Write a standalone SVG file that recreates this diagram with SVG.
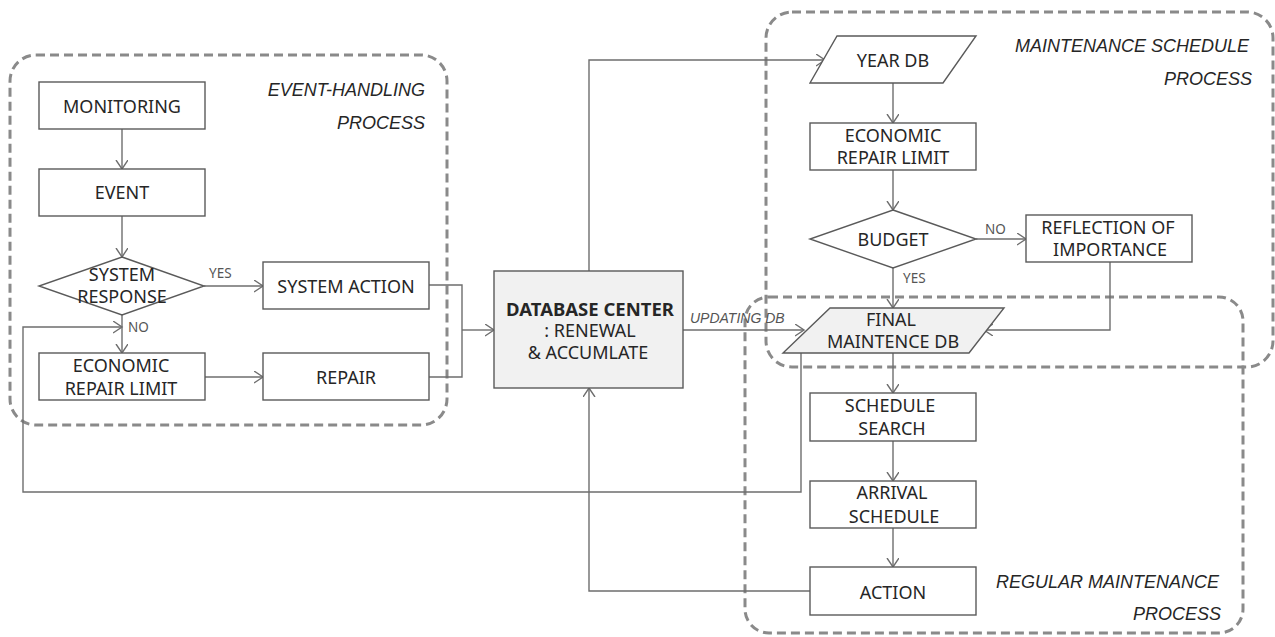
<svg xmlns="http://www.w3.org/2000/svg" width="1275" height="637" viewBox="0 0 1275 637">
  <style>
    .bg { fill: #ffffff; }
    .grp { fill: none; stroke: #8a8a8a; stroke-width: 3; stroke-dasharray: 9 5; }
    .box { fill: #ffffff; stroke: #5a5a5a; stroke-width: 1.4; }
    .shade { fill: #f1f1f1; stroke: #5a5a5a; stroke-width: 1.4; }
    .edge { fill: none; stroke: #6e6e6e; stroke-width: 1.4; }
    .lbl { font-family: "Noto Sans", "Liberation Sans", sans-serif; font-size: 18px; fill: #262626; text-anchor: middle; dominant-baseline: central; }
    .bold { font-weight: bold; font-size: 18.5px; }
    .small { font-family: "Noto Sans", "Liberation Sans", sans-serif; font-size: 13.5px; fill: #555555; dominant-baseline: central; }
    .proc { font-family: "Liberation Sans", sans-serif; font-size: 18px; font-style: italic; fill: #262626; text-anchor: end; dominant-baseline: central; }
    .edgelbl { font-family: "Liberation Sans", sans-serif; font-size: 14px; font-style: italic; fill: #555555; dominant-baseline: central; }
  </style>
  <defs>
    <marker id="arrow" markerUnits="userSpaceOnUse" markerWidth="12" markerHeight="14" refX="9" refY="6" orient="auto">
      <path d="M0,0 L9,6 L0,12" fill="none" stroke="#6e6e6e" stroke-width="1.4"/>
    </marker>
  </defs>

  <rect class="bg" x="0" y="0" width="1275" height="637"/>

  <!-- process groupings -->
  <g id="groups">
    <rect id="event-handling-process" class="grp" x="10" y="55" width="437" height="370" rx="26"/>
    <rect id="maintenance-schedule-process" class="grp" x="766" y="12" width="507" height="355" rx="26"/>
    <rect id="regular-maintenance-process" class="grp" x="745" y="297" width="498" height="336" rx="24"/>
    <text class="proc" x="425" y="90">EVENT-HANDLING</text>
    <text class="proc" x="425" y="123">PROCESS</text>
    <text class="proc" x="1249" y="46">MAINTENANCE SCHEDULE</text>
    <text class="proc" x="1252" y="79">PROCESS</text>
    <text class="proc" x="1219" y="582">REGULAR MAINTENANCE</text>
    <text class="proc" x="1221" y="614">PROCESS</text>
  </g>

  <!-- connectors -->
  <g id="connectors">
    <path class="edge" d="M122,129 V169" marker-end="url(#arrow)"/>
    <path class="edge" d="M122,216 V257" marker-end="url(#arrow)"/>
    <path class="edge" d="M204,286 H263" marker-end="url(#arrow)"/>
    <path class="edge" d="M122,315 V353" marker-end="url(#arrow)"/>
    <path class="edge" d="M205,377 H263" marker-end="url(#arrow)"/>
    <path class="edge" d="M429,285 H462 V377 H429"/>
    <path class="edge" d="M462,330 H494" marker-end="url(#arrow)"/>
    <path class="edge" d="M589,271 V60 H825" marker-end="url(#arrow)"/>
    <path class="edge" d="M683,330 H804" marker-end="url(#arrow)"/>
    <path class="edge" d="M893,83 V123" marker-end="url(#arrow)"/>
    <path class="edge" d="M893,170 V210" marker-end="url(#arrow)"/>
    <path class="edge" d="M976,239 H1026" marker-end="url(#arrow)"/>
    <path class="edge" d="M893,268 V308" marker-end="url(#arrow)"/>
    <path class="edge" d="M1110,262 V330 H984" marker-end="url(#arrow)"/>
    <path class="edge" d="M893,353 V393" marker-end="url(#arrow)"/>
    <path class="edge" d="M893,441 V481" marker-end="url(#arrow)"/>
    <path class="edge" d="M893,528 V567" marker-end="url(#arrow)"/>
    <path class="edge" d="M810,591 H589 V388" marker-end="url(#arrow)"/>
    <path class="edge" d="M801,353 V492 H23 V327 H122" marker-end="url(#arrow)"/>
    <text class="small" x="209" y="273">YES</text>
    <text class="small" x="128" y="327">NO</text>
    <text class="small" x="985" y="229">NO</text>
    <text class="small" x="903" y="278">YES</text>
    <text class="edgelbl" x="690" y="318">UPDATING DB</text>
  </g>

  <!-- event-handling nodes -->
  <g id="monitoring">
    <rect class="box" x="39" y="82" width="166" height="47"/>
    <text class="lbl" x="122" y="106">MONITORING</text>
  </g>
  <g id="event">
    <rect class="box" x="39" y="169" width="166" height="47"/>
    <text class="lbl" x="122" y="192">EVENT</text>
  </g>
  <g id="system-response">
    <polygon class="box" points="122,257 204,286 122,315 39,286"/>
    <text class="lbl" x="122" y="274">SYSTEM</text>
    <text class="lbl" x="122" y="296">RESPONSE</text>
  </g>
  <g id="system-action">
    <rect class="box" x="263" y="262" width="166" height="47"/>
    <text class="lbl" x="346" y="286">SYSTEM ACTION</text>
  </g>
  <g id="economic-repair-limit-1">
    <rect class="box" x="39" y="353" width="166" height="47"/>
    <text class="lbl" x="121" y="365">ECONOMIC</text>
    <text class="lbl" x="121" y="388">REPAIR LIMIT</text>
  </g>
  <g id="repair">
    <rect class="box" x="263" y="353" width="166" height="47"/>
    <text class="lbl" x="346" y="377">REPAIR</text>
  </g>

  <!-- central database -->
  <g id="database-center">
    <rect class="shade" x="494" y="271" width="189" height="117"/>
    <text class="lbl bold" x="590" y="308">DATABASE CENTER</text>
    <text class="lbl" x="590" y="330">: RENEWAL</text>
    <text class="lbl" x="588" y="352">&amp; ACCUMLATE</text>
  </g>

  <!-- maintenance schedule nodes -->
  <g id="year-db">
    <polygon class="box" points="837,36 976,36 943,83 810,83"/>
    <text class="lbl" x="893" y="60">YEAR DB</text>
  </g>
  <g id="economic-repair-limit-2">
    <rect class="box" x="810" y="123" width="166" height="47"/>
    <text class="lbl" x="893" y="135">ECONOMIC</text>
    <text class="lbl" x="893" y="157">REPAIR LIMIT</text>
  </g>
  <g id="budget">
    <polygon class="box" points="893,210 976,239 893,268 810,239"/>
    <text class="lbl" x="893" y="239">BUDGET</text>
  </g>
  <g id="reflection-of-importance">
    <rect class="box" x="1026" y="215" width="166" height="47"/>
    <text class="lbl" x="1108" y="227">REFLECTION OF</text>
    <text class="lbl" x="1110" y="249">IMPORTANCE</text>
  </g>
  <g id="final-maintence-db">
    <polygon class="shade" points="830,308 1004,308 969,353 783,353"/>
    <text class="lbl" x="891" y="319">FINAL</text>
    <text class="lbl" x="893" y="341">MAINTENCE DB</text>
  </g>

  <!-- regular maintenance nodes -->
  <g id="schedule-search">
    <rect class="box" x="810" y="393" width="166" height="48"/>
    <text class="lbl" x="890" y="405">SCHEDULE</text>
    <text class="lbl" x="892" y="428">SEARCH</text>
  </g>
  <g id="arrival-schedule">
    <rect class="box" x="810" y="481" width="166" height="47"/>
    <text class="lbl" x="892" y="492">ARRIVAL</text>
    <text class="lbl" x="894" y="516">SCHEDULE</text>
  </g>
  <g id="action">
    <rect class="box" x="810" y="567" width="166" height="48"/>
    <text class="lbl" x="893" y="592">ACTION</text>
  </g>
</svg>
